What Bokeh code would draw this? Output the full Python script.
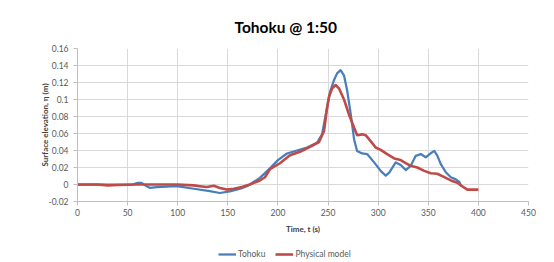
from bokeh.plotting import figure
from bokeh.models import Range1d, FixedTicker, Legend, LegendItem
from bokeh.layouts import column
from bokeh.embed import file_html
from bokeh.resources import INLINE

# ---- data ----
tohoku_t = [0, 20, 40, 55, 60, 64, 66, 72.5, 79, 99,
            116, 132, 142, 152, 162.5, 169, 172, 182, 192, 200,
            209, 219, 229, 239, 244, 247, 252, 256, 259, 262.5,
            266, 269, 272.5, 276, 279, 284, 289, 296, 302.5, 307.5,
            311, 317.5, 322.5, 327.5, 332.5, 337.5, 342.5, 347.5, 352.5, 356,
            359, 362.5, 367.5, 372.5, 377.5, 381, 383]
tohoku_eta = [0, 0, 0, 0, 0.002, 0.002, 0, -0.004, -0.003, -0.002,
              -0.005, -0.0077, -0.01, -0.008, -0.005, -0.002, 0, 0.0078, 0.019, 0.0287,
              0.0365, 0.040, 0.0435, 0.049, 0.059, 0.078, 0.109, 0.123, 0.1307, 0.1345,
              0.128, 0.111, 0.084, 0.053, 0.0395, 0.0365, 0.0358, 0.026, 0.016, 0.0105,
              0.014, 0.026, 0.023, 0.017, 0.022, 0.0337, 0.0358, 0.032, 0.0368, 0.0395,
              0.034, 0.024, 0.0144, 0.0086, 0.006, 0.003, -0.002]

model_t = [0, 20, 30, 40, 60, 80, 100,
           116, 122, 129, 136, 142, 149, 156, 164, 172,
           176, 182, 187, 192, 202, 212, 222, 232, 241, 246,
           249, 251, 254, 257.5, 261, 266, 271, 276, 279, 284,
           287.5, 292.5, 297.5, 302.5, 309, 316, 322.5, 327.5, 332.5, 339,
           346, 352.5, 359, 366, 372.5, 379, 384, 389, 396, 400]
model_eta = [0, 0, -0.001, -0.0005, 0, 0, 0,
             -0.001, -0.002, -0.003, -0.0015, -0.004, -0.006, -0.005, -0.003, 0,
             0.002, 0.0047, 0.0085, 0.018, 0.025, 0.0345, 0.0385, 0.0443, 0.050, 0.063,
             0.09, 0.1035, 0.113, 0.117, 0.113, 0.0997, 0.082, 0.0667, 0.058, 0.059,
             0.058, 0.051, 0.0435, 0.0407, 0.0357, 0.0307, 0.0287, 0.0252, 0.022, 0.020,
             0.016, 0.0132, 0.0126, 0.0086, 0.0048, 0.002, -0.0023, -0.006, -0.006, -0.006]

x_ticks = [0, 50, 100, 150, 200, 250, 300, 350, 400, 450]
y_ticks = [-0.02, 0, 0.02, 0.04, 0.06, 0.08, 0.1, 0.12, 0.14, 0.16]
y_tick_labels = ["-0.02", "0", "0.02", "0.04", "0.06", "0.08", "0.1", "0.12", "0.14", "0.16"]

title_text = "Tohoku @ 1:50"
series_names = ["Tohoku", "Physical model"]
colors = ["#4a7ebb", "#be4b48"]

FONT = "Lato"
GRID = "#d9d9d9"
AXIS = "#bfbfbf"
TXT = "#595959"

p = figure(width=546, height=236, output_backend="svg", toolbar_location=None,
           x_range=Range1d(0, 450), y_range=Range1d(-0.02, 0.16),
           min_border_left=77, min_border_right=18, min_border_top=48, min_border_bottom=33)
p.outline_line_color = None
p.background_fill_color = "white"
p.border_fill_color = "white"

p.title.text = title_text
p.title.align = "left"
p.title.offset = 157
p.title.standoff = 26
p.title.text_font = FONT
p.title.text_font_size = "15.5px"
p.title.text_font_style = "bold"
p.title.text_color = "#000000"

p.xaxis.ticker = FixedTicker(ticks=x_ticks)
p.yaxis.ticker = FixedTicker(ticks=y_ticks)
p.yaxis.major_label_overrides = {t: l for t, l in zip(y_ticks, y_tick_labels)}

for ax in (p.xaxis, p.yaxis):
    ax.axis_line_color = AXIS
    ax.major_tick_line_color = AXIS
    ax.major_tick_out = 4
    ax.major_tick_in = 0
    ax.minor_tick_line_color = None
    ax.major_label_text_font = FONT
    ax.major_label_text_font_size = "8.5px"
    ax.major_label_text_color = TXT
    ax.axis_label_text_font = FONT
    ax.axis_label_text_font_size = "8px"
    ax.axis_label_text_font_style = "bold"
    ax.axis_label_text_color = "#404040"

p.xaxis.major_label_standoff = 3
p.yaxis.major_label_standoff = 5
p.xaxis.axis_label = "Time, t (s)"
p.yaxis.axis_label = "Surface elevation, \u03b7 (m)"
p.xaxis.axis_label_standoff = 5
p.yaxis.axis_label_standoff = -4

p.xgrid.ticker = FixedTicker(ticks=x_ticks)
p.ygrid.ticker = FixedTicker(ticks=y_ticks)
p.xgrid.grid_line_color = GRID
p.ygrid.grid_line_color = GRID

p.line(tohoku_t, tohoku_eta, line_color=colors[0], line_width=2.25, line_join="round")
p.line(model_t, model_eta, line_color=colors[1], line_width=2.6, line_join="round")

# legend strip below the chart (a separate, axis-less figure; its frame aligns with the chart's)
lg = figure(width=546, height=26, output_backend="svg", toolbar_location=None,
            x_range=Range1d(0, 1), y_range=Range1d(0, 1),
            min_border=0, x_axis_type=None, y_axis_type=None)
lg.outline_line_color = None
lg.grid.visible = False
lg.border_fill_color = "white"
# stand-in renderers that only supply the legend swatches (their points lie outside the view)
l1 = lg.line([5, 6], [5, 5], line_color=colors[0], line_width=2.25)
l2 = lg.line([5, 6], [5, 5], line_color=colors[1], line_width=2.6)
legend = Legend(items=[LegendItem(label=series_names[0], renderers=[l1]),
                       LegendItem(label=series_names[1], renderers=[l2])],
                orientation="horizontal", location=(141, 2),
                background_fill_alpha=0, border_line_color=None,
                padding=0, margin=0, spacing=10, label_standoff=2,
                glyph_width=18, glyph_height=12, label_height=12,
                label_text_font=FONT, label_text_font_size="8.5px", label_text_color=TXT)
lg.add_layout(legend, "center")

layout = column(p, lg, spacing=0)
open("out.html", "w").write(file_html(layout, INLINE))
